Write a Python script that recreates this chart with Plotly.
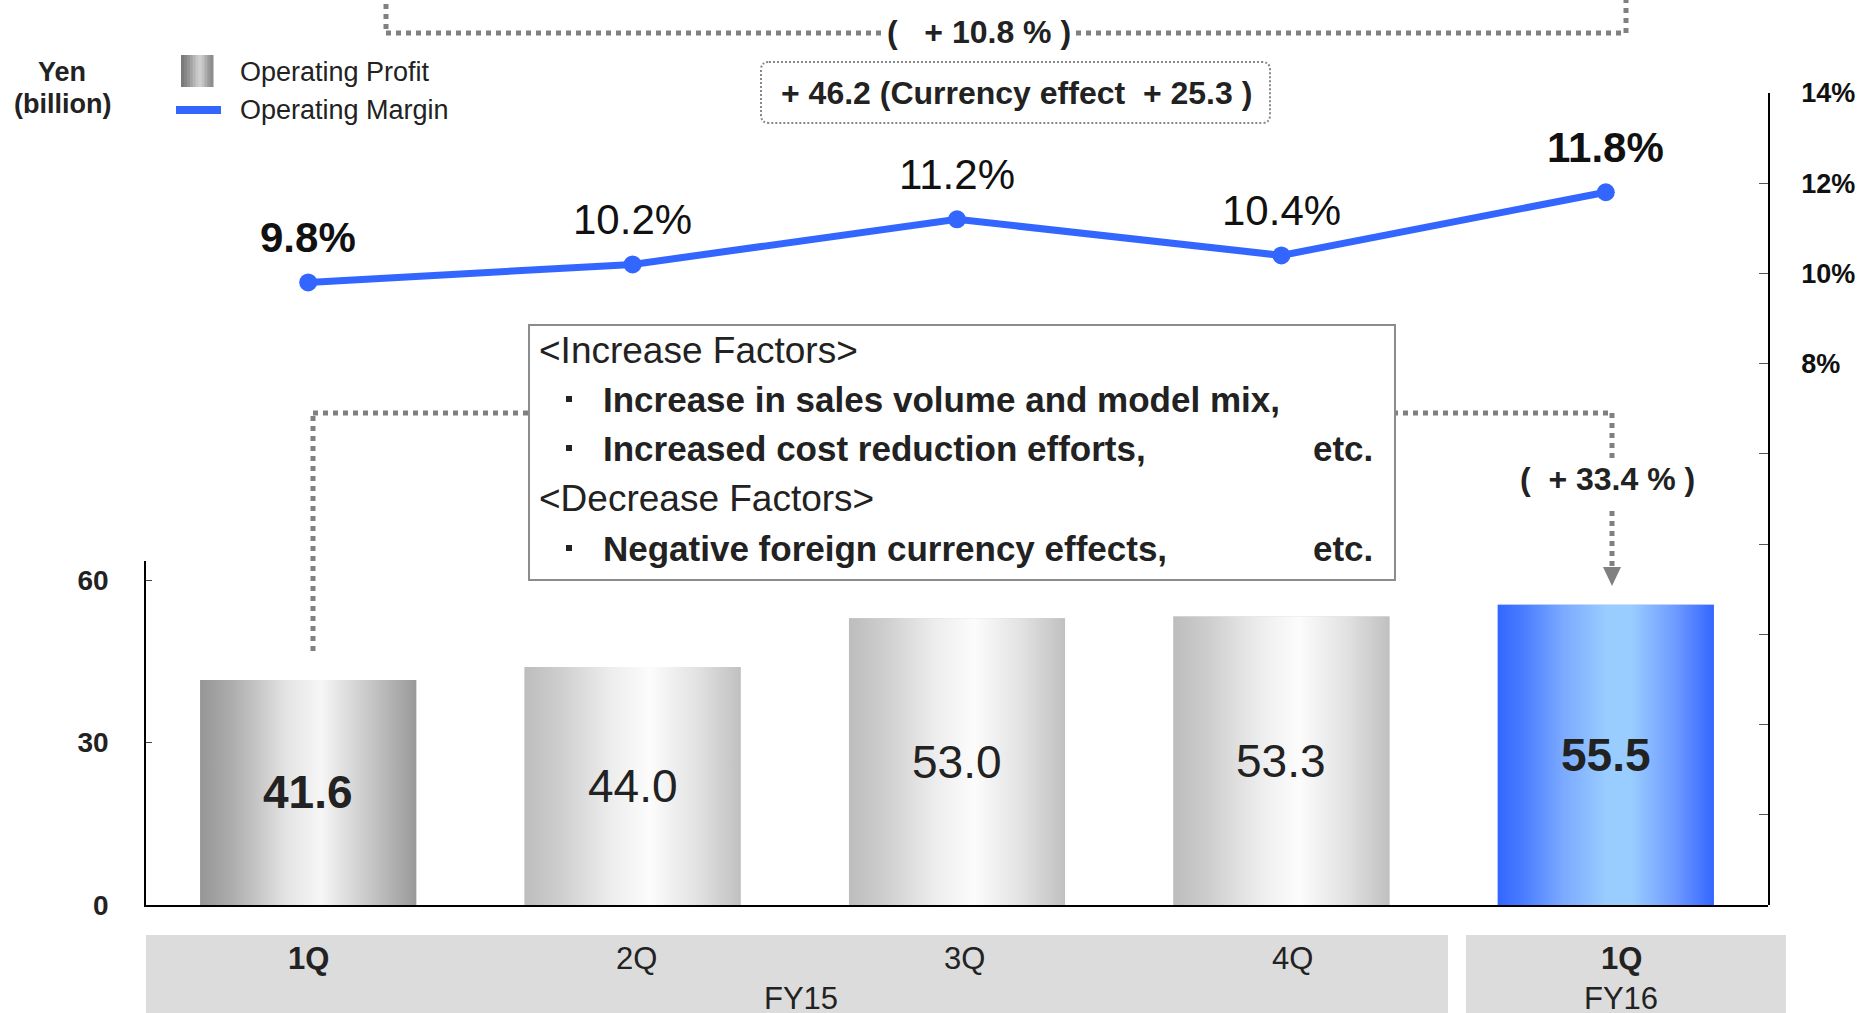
import plotly.graph_objects as go

# ---------------- data ----------------
quarters = ["1Q", "2Q", "3Q", "4Q", "1Q"]
fiscal_years = ["FY15", "FY16"]
op_profit = [41.6, 44.0, 53.0, 53.3, 55.5]          # Yen billion
op_margin = [9.8, 10.2, 11.2, 10.4, 11.8]           # %
highlight = [True, False, False, False, True]
profit_labels = ["41.6", "44.0", "53.0", "53.3", "55.5"]
margin_labels = ["9.8%", "10.2%", "11.2%", "10.4%", "11.8%"]
left_tickvals = [0, 30, 60]
right_tickvals = [-4, -2, 0, 2, 4, 6, 8, 10, 12, 14]
right_ticktext = ["", "", "", "", "", "", "8%", "10%", "12%", "14%"]
yoy_total_text = "(   + 10.8 % )"
change_text = "+ 46.2 (Currency effect  + 25.3 )"
yoy_q_text = "(  + 33.4 % )"
increase_header = "<Increase Factors>"
increase_items = ["Increase in sales volume and model mix,", "Increased cost reduction efforts,"]
increase_etc = ["", "etc."]
decrease_header = "<Decrease Factors>"
decrease_items = ["Negative foreign currency effects,"]
decrease_etc = ["etc."]
legend_names = ["Operating Profit", "Operating Margin"]
unit_lines = ["Yen", "(billion)"]
page_no = "13"

# ---------------- style ----------------
W, H = 1872, 1013
L, R, T, B = 146, 1768, 93, 905
FONT = "Liberation Sans, Arial, sans-serif"
TXT = "#222222"
BLUE = "#3366ff"
DOT = "#808080"
BAR_W = 0.666
LEFT_MAX = 63.5
PX_PER_UNIT = (905 - 580.3) / 60.0

gray_scale = [[0, "#bdbdbd"], [0.15, "#cccccc"], [0.4, "#ededed"], [0.58, "#fcfcfc"],
              [0.8, "#e2e2e2"], [1, "#c0c0c0"]]
dark_scale = [[0, "#969696"], [0.15, "#adadad"], [0.4, "#e4e4e4"], [0.56, "#f6f6f6"],
              [0.8, "#c4c4c4"], [1, "#999999"]]
blue_scale = [[0, "#3366ff"], [0.12, "#4a7dff"], [0.3, "#7aa9ff"], [0.5, "#99ccff"],
              [0.62, "#99ccff"], [0.82, "#6f9bff"], [1, "#3366ff"]]
bar_scales = [dark_scale, gray_scale, gray_scale, gray_scale, blue_scale]
bar_base = ["#aaaaaa", "#cccccc", "#cccccc", "#cccccc", "#6699ff"]


def px(xp):
    return (xp - L) / (R - L)


def py(yp):
    return (B - yp) / (B - T)


idx = list(range(len(op_profit)))
fig = go.Figure()

# base bars (solid) + gradient overlays built from same data
fig.add_trace(go.Bar(x=idx, y=op_profit, width=BAR_W, marker=dict(color=bar_base, line=dict(width=0)),
                     xaxis="x", yaxis="y", name=legend_names[0], showlegend=False))
for i, v in enumerate(op_profit):
    x0, x1 = i - BAR_W / 2, i + BAR_W / 2
    fig.add_trace(go.Scatter(x=[x0, x0, x1, x1, x0], y=[0, v, v, 0, 0], mode="none", fill="toself",
                             fillgradient=dict(type="horizontal", colorscale=bar_scales[i]),
                             xaxis="x", yaxis="y", showlegend=False, hoverinfo="skip"))

# margin line
fig.add_trace(go.Scatter(x=idx, y=op_margin, mode="lines+markers", xaxis="x", yaxis="y2",
                         line=dict(color=BLUE, width=7), marker=dict(color=BLUE, size=18),
                         name=legend_names[1], showlegend=False))

ann = []


def note(xp, yp, text, size, xanchor="center", bold=False, **kw):
    ann.append(dict(x=px(xp), y=py(yp), xref="paper", yref="paper", xanchor=xanchor, yanchor="middle",
                    showarrow=False, text=f"<b>{text}</b>" if bold else text,
                    font=dict(family=kw.pop("family", FONT), size=size, color=kw.pop("color", TXT)), **kw))


# bar value labels
for i, v in enumerate(op_profit):
    t = profit_labels[i]
    ann.append(dict(x=i, y=v / 2, xref="x", yref="y", showarrow=False, xanchor="center", yanchor="middle",
                    text=f"<b>{t}</b>" if highlight[i] else t,
                    font=dict(family=FONT, size=46, color=TXT)))
# margin labels
for i, m in enumerate(op_margin):
    t = margin_labels[i]
    ann.append(dict(x=i, y=m, xref="x", yref="y2", yshift=45, showarrow=False, xanchor="center", yanchor="middle",
                    text=f"<b>{t}</b>" if highlight[i] else t,
                    font=dict(family=FONT, size=42, color="#111111")))

shapes = []
# category bands
shapes.append(dict(type="rect", xref="paper", yref="paper", x0=px(146), x1=px(1448), y0=py(935), y1=py(1030),
                   fillcolor="#dcdcdc", line=dict(width=0), layer="below"))
shapes.append(dict(type="rect", xref="paper", yref="paper", x0=px(1466), x1=px(1786), y0=py(935), y1=py(1030),
                   fillcolor="#dcdcdc", line=dict(width=0), layer="below"))
q_px = [308, 636, 965, 1292, 1621]
for i, q in enumerate(quarters):
    note(q_px[i], 958, q, 31, bold=highlight[i])
note(801, 998, fiscal_years[0], 31)
note(1621, 998, fiscal_years[1], 31)
ann.append(dict(x=px(1822), y=py(1004), xref="paper", yref="paper", xanchor="center", yanchor="top",
                showarrow=False, text=f"<b>{page_no}</b>", font=dict(family=FONT, size=34, color=TXT)))


def seg(xa, ya, xb, yb, width=5, color=DOT, dash="5px,5px"):
    shapes.append(dict(type="line", xref="paper", yref="paper", x0=px(xa), y0=py(ya), x1=px(xb), y1=py(yb),
                       line=dict(color=color, width=width, dash=dash)))


# top bracket
seg(386, -6, 386, 33)
seg(386, 33, 1626, 33)
seg(1626, 33, 1626, -6)
note(979, 32, yoy_total_text, 32, bold=True, bgcolor="white")

# change box (rounded dotted)
bx0, bx1, by0, by1, r = 761, 1270, 62, 123, 8
rx, ry = r / (R - L), r / (B - T)
X0, X1, Y0, Y1 = px(bx0), px(bx1), py(by1), py(by0)
path = (f"M {X0+rx},{Y1} L {X1-rx},{Y1} Q {X1},{Y1} {X1},{Y1-ry} L {X1},{Y0+ry} Q {X1},{Y0} {X1-rx},{Y0} "
        f"L {X0+rx},{Y0} Q {X0},{Y0} {X0},{Y0+ry} L {X0},{Y1-ry} Q {X0},{Y1} {X0+rx},{Y1} Z")
shapes.append(dict(type="path", xref="paper", yref="paper", path=path,
                   line=dict(color="#888888", width=2, dash="2px,2px")))
note(1016, 93, change_text, 32, bold=True)

# lower bracket
seg(313, 651, 313, 413)
seg(313, 413, 1612, 413)
seg(1612, 413, 1612, 462)
seg(1612, 511, 1612, 568)
ah = 9
shapes.append(dict(type="path", xref="paper", yref="paper",
                   path=f"M {px(1612-ah)},{py(567)} L {px(1612+ah)},{py(567)} L {px(1612)},{py(586)} Z",
                   fillcolor=DOT, line=dict(width=0)))
note(1607, 479, yoy_q_text, 32, bold=True)

# factors box
shapes.append(dict(type="rect", xref="paper", yref="paper", x0=px(529), x1=px(1395), y0=py(580), y1=py(325),
                   fillcolor="white", line=dict(color="#8c8c8c", width=2)))
rows = [(increase_header, None, "")] + [(None, t, e) for t, e in zip(increase_items, increase_etc)] + \
       [(decrease_header, None, "")] + [(None, t, e) for t, e in zip(decrease_items, decrease_etc)]
row_y = [350, 399, 448, 498, 548]
for (hdr, item, etc), yy in zip(rows, row_y):
    if hdr:
        note(537, yy, hdr.replace("<", "&lt;").replace(">", "&gt;"), 37, xanchor="left")
    else:
        shapes.append(dict(type="rect", xref="paper", yref="paper", x0=px(566), x1=px(572),
                           y0=py(yy + 3), y1=py(yy - 3), fillcolor=TXT, line=dict(width=0)))
        note(601, yy, item, 35, xanchor="left", bold=True)
        if etc:
            note(1375, yy, etc, 35, xanchor="right", bold=True)

# legend (manual)
grad = ["#7a7a7a", "#858585", "#939393", "#a3a3a3", "#b5b5b5", "#c6c6c6", "#cfcfcf", "#c2c2c2", "#adadad",
        "#999999", "#8d8d8d"]
lx0, lx1 = 181, 213
sw = (lx1 - lx0) / len(grad)
for k, c in enumerate(grad):
    shapes.append(dict(type="rect", xref="paper", yref="paper", x0=px(lx0 + k * sw), x1=px(lx0 + (k + 1) * sw + 0.5),
                       y0=py(87), y1=py(55), fillcolor=c, line=dict(width=0)))
seg(176, 110, 221, 110, width=8, color=BLUE, dash="solid")
note(238, 72, legend_names[0], 27, xanchor="left")
note(238, 110, legend_names[1], 27, xanchor="left")
note(62, 72, unit_lines[0], 27, bold=True)
note(62, 104, unit_lines[1], 27, bold=True)

fig.update_layout(
    width=W, height=H, autosize=False,
    margin=dict(l=L, r=W - R, t=T, b=H - B, pad=0),
    paper_bgcolor="white", plot_bgcolor="rgba(0,0,0,0)",
    showlegend=False, barmode="overlay",
    xaxis=dict(range=[-0.5, 4.5], showticklabels=False, ticks="", showgrid=False, zeroline=False,
               showline=True, linecolor="black", linewidth=2, fixedrange=True),
    yaxis=dict(domain=[0, LEFT_MAX * PX_PER_UNIT / (B - T)], range=[0, LEFT_MAX], tickvals=left_tickvals,
               ticks="inside", ticklen=6, tickcolor="#444", showgrid=False, zeroline=False,
               showline=True, linecolor="black", linewidth=1.5, ticklabelstandoff=30,
               tickfont=dict(family=FONT, size=28, color=TXT, weight="bold")),
    yaxis2=dict(domain=[0, 1], range=[-4, 14], anchor="x", side="right", tickvals=right_tickvals,
                ticktext=right_ticktext, ticks="inside", ticklen=9, tickcolor="#555", showgrid=False,
                zeroline=False, showline=True, linecolor="black", linewidth=1.5, ticklabelstandoff=26,
                tickfont=dict(family=FONT, size=27, color="#111", weight="bold")),
    annotations=ann, shapes=shapes,
)

fig.write_html("out.html", config={"displayModeBar": False},
               post_script="document.body.style.margin='0';document.body.style.overflow='hidden';")
